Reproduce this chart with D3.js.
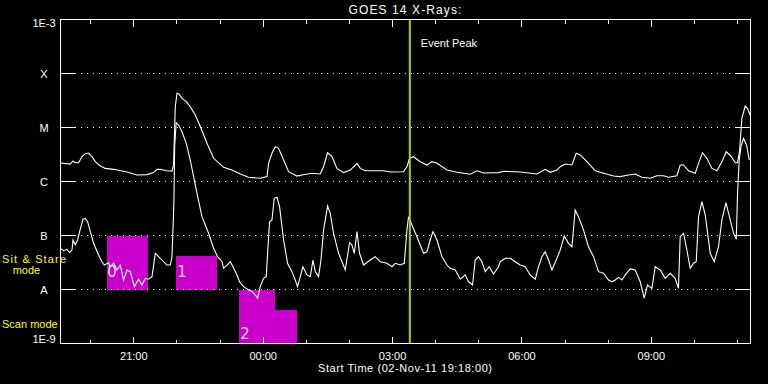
<!DOCTYPE html>
<html><head><meta charset="utf-8">
<script src="https://cdn.jsdelivr.net/npm/d3@7"></script>
<style>html,body{margin:0;background:#000;} svg{display:block}</style>
</head><body><svg id="c" width="768" height="384"></svg>
<script>
// ---------- data ----------
const titleText = "GOES 14 X-Rays:";
const xAxisTitle = "Start Time (02-Nov-11 19:18:00)";
const startUTC = Date.UTC(2011, 10, 2, 19, 18);   // 02-Nov-11 19:18
const spanMinutes = 960;                            // 16 hours
const yTickValues = [1e-9, 1e-8, 1e-7, 1e-6, 1e-5, 1e-4, 1e-3];
const yTickLabels = ["1E-9", "A", "B", "C", "M", "X", "1E-3"];
const eventPeakMinute = 486;                        // 03:24
const eventLabel = "Event Peak";
const modeLabels = ["Sit & Stare", "mode", "Scan mode"];

// mode boxes: [startMinute, endMinute, lowFlux, highFlux]
const modeBoxes = [
  [64, 122, 1e-8, 1e-7],
  [161, 218, 1e-8, 4.2e-8],
  [249, 299, 1e-9, 1e-8],
  [299, 329, 1e-9, 4.2e-9]
];
// box numbers: [label, minute, flux]
const boxNumbers = [["0", 65, 1.68e-8], ["1", 162.5, 1.68e-8], ["2", 250, 1.2e-9]];

// GOES 1-8 A (long) : [minute since start, flux W/m2]
const longChannel = [[0,2.2e-6],[13.6,2.1e-6],[17.4,2.4e-6],[20.6,2.23e-6],[25.2,2.23e-6],[29.9,2.88e-6],[34.5,3.27e-6],[39.1,3.37e-6],[43.8,2.88e-6],[48.4,2.33e-6],[55.4,1.94e-6],[62.3,1.75e-6],[73.9,1.68e-6],[92.5,1.5e-6],[106.4,1.32e-6],[120.3,1.34e-6],[129.5,1.46e-6],[134.2,1.68e-6],[138.8,1.68e-6],[148.2,1.58e-6],[155.1,1.56e-6],[157.3,2.02e-6],[159.7,2.43e-5],[162.1,4.29e-5],[164.8,4.17e-5],[169,3.47e-5],[175,3.01e-5],[180.5,2.43e-5],[187.5,1.7e-5],[194.5,1.04e-5],[203.8,5.1e-6],[213,2.69e-6],[226.9,1.83e-6],[238.6,1.63e-6],[250.1,1.38e-6],[261.7,1.2e-6],[277.9,1.15e-6],[287.3,1.23e-6],[289.5,2.17e-6],[294.2,3.33e-6],[298.8,4.41e-6],[303.4,4.12e-6],[310.4,2.5e-6],[317.3,1.52e-6],[329,1.26e-6],[336,1.32e-6],[349.9,1.42e-6],[361.4,1.38e-6],[366,1.88e-6],[371.6,3.41e-6],[377.7,2.88e-6],[384.6,1.75e-6],[393.8,1.46e-6],[403.1,1.63e-6],[412.5,2.17e-6],[417.1,1.75e-6],[424,1.58e-6],[449.5,1.58e-6],[458.8,1.5e-6],[477.3,1.52e-6],[482,1.88e-6],[485.6,2.69e-6],[491.2,2.88e-6],[500.5,2.33e-6],[509.8,2.02e-6],[516.8,2.33e-6],[523.8,2.17e-6],[537.7,1.63e-6],[551.6,1.48e-6],[570.1,1.36e-6],[579.4,1.58e-6],[588.6,1.44e-6],[609.4,1.46e-6],[616.4,1.55e-6],[639.6,1.5e-6],[662.9,1.38e-6],[674.4,1.68e-6],[681.4,1.48e-6],[690.7,1.63e-6],[695.3,1.88e-6],[702.2,2.11e-6],[711.6,2.02e-6],[717.5,3.33e-6],[723.1,3.1e-6],[732.4,2.33e-6],[744,1.58e-6],[755.5,1.42e-6],[769.4,1.26e-6],[778.7,1.23e-6],[790.3,1.32e-6],[799.6,1.38e-6],[808.9,1.2e-6],[820.5,1.15e-6],[829.8,1.28e-6],[839,1.28e-6],[845.9,1.2e-6],[857.6,1.28e-6],[862.2,2.02e-6],[866.8,2.02e-6],[873.8,1.58e-6],[883.1,1.42e-6],[887.7,2.17e-6],[893.2,3.41e-6],[899.4,2.69e-6],[906.3,1.75e-6],[913.3,1.58e-6],[920.2,2.33e-6],[926.2,3.56e-6],[932.7,2.97e-6],[938.7,2.23e-6],[941.9,2.23e-6],[944.7,3.56e-6],[948,1.48e-5],[952.6,2.5e-5],[955.8,2.27e-5],[959.5,1.7e-5]];

// GOES 0.5-4 A (short)
const shortChannel = [[0,5.79e-8],[4.3,5.23e-8],[9,5.55e-8],[12.7,4.8e-8],[16,5.39e-8],[17.4,8.26e-8],[20.6,6.67e-8],[23.8,8.26e-8],[26.6,1.18e-7],[31.3,2.0e-7],[34.5,2.08e-7],[37.7,1.8e-7],[41.5,1.18e-7],[46,7.17e-8],[53,4.35e-8],[57.7,3.27e-8],[60.9,2.84e-8],[66.9,3.13e-8],[69.3,2.64e-8],[73.9,3.06e-8],[78.6,2.3e-8],[83.2,2.84e-8],[87.8,1.5e-8],[92.5,2.3e-8],[97.1,2.14e-8],[102.7,1.13e-8],[108.6,1.55e-8],[113.4,1.21e-8],[118,1.61e-8],[122.6,1.55e-8],[127.3,1.73e-8],[131.9,4.68e-8],[138.8,3.78e-8],[148.2,2.84e-8],[152.7,2.84e-8],[155.1,4.05e-8],[157.3,2.58e-7],[157.8,4.54e-7],[158.8,4.41e-6],[161,1.23e-5],[164.3,1.11e-5],[169,8.36e-6],[175,5.1e-6],[180.5,2.5e-6],[185.2,1.23e-6],[189.9,6.04e-7],[196.8,2.23e-7],[206,1.1e-7],[213,5.79e-8],[218.5,4.05e-8],[224.7,3.27e-8],[226.9,2.47e-8],[231.6,2.84e-8],[236.2,3.27e-8],[240,2.64e-8],[245.5,1.86e-8],[249.1,1.39e-8],[254.7,1.13e-8],[261.7,9.8e-9],[266.4,9.1e-9],[271,7.9e-9],[274.2,6.9e-9],[277.9,1.13e-8],[282.5,1.61e-8],[286.3,1.73e-8],[288.1,4.68e-8],[290.9,1.8e-7],[294.2,1.94e-7],[297.4,4.89e-7],[301.2,5.1e-7],[304.8,3.41e-7],[310.4,8.26e-8],[315.9,3.06e-8],[322,2.14e-8],[326.6,1.5e-8],[329.8,1.13e-8],[333.6,1.73e-8],[337.3,2.64e-8],[342.9,1.86e-8],[347.5,1.73e-8],[351.3,3.52e-8],[354.5,2.14e-8],[359,1.73e-8],[362.4,3.52e-8],[366,1.26e-7],[371.6,3.52e-7],[375.3,2.58e-7],[379.9,1.1e-7],[386.9,4.68e-8],[396.2,2.3e-8],[402.2,7.36e-8],[405.5,6.67e-8],[408.7,4.68e-8],[412.5,1.18e-7],[416.1,4.68e-8],[421.7,2.84e-8],[431,3.52e-8],[437.9,4.05e-8],[444.9,3.27e-8],[454.2,3.06e-8],[461.2,2.64e-8],[465.7,3.06e-8],[472.7,2.84e-8],[478.3,3.06e-8],[482,1.26e-7],[484.2,2.23e-7],[488.9,1.56e-7],[495.9,9.5e-8],[505.1,4.68e-8],[509.8,5.0e-8],[514.4,8.26e-8],[518.2,1.18e-7],[523.8,8.26e-8],[530.7,4.05e-8],[537.7,2.84e-8],[542.3,2.47e-8],[549.2,2.3e-8],[556.2,1.55e-8],[563.1,1.86e-8],[567.7,1.39e-8],[573.3,1.21e-8],[577,3.52e-8],[581.6,4.05e-8],[586.3,3.27e-8],[590.9,2.14e-8],[596.5,2.64e-8],[602.5,1.94e-8],[609.4,2.64e-8],[611.8,3.27e-8],[618.8,3.78e-8],[625.7,3.78e-8],[632.7,3.27e-8],[639.6,2.84e-8],[646.6,2.64e-8],[653.5,1.86e-8],[660.5,1.55e-8],[665.1,2.64e-8],[669.8,4.05e-8],[674.4,5.0e-8],[679,3.52e-8],[683.7,2.3e-8],[690.7,3.78e-8],[695.3,5.39e-8],[700.9,9.8e-8],[706.8,7.17e-8],[711.6,6.2e-8],[716.1,2.97e-7],[720.7,2.23e-7],[727.7,1.26e-7],[734.6,6.2e-8],[741.6,4.05e-8],[748.5,2.14e-8],[755.5,2.0e-8],[762.5,1.5e-8],[767.2,1.39e-8],[771.7,1.5e-8],[776.4,1.68e-8],[781.1,1.5e-8],[785.7,1.86e-8],[792.7,2.4e-8],[799.6,2.3e-8],[806.6,1.39e-8],[812.1,6.9e-9],[816.7,1.21e-8],[822.9,1.05e-8],[827.4,2.64e-8],[834.4,2.3e-8],[841.3,1.61e-8],[848.3,2.0e-8],[855.2,1.61e-8],[859.8,1.05e-8],[862.2,9.5e-8],[866.8,1.1e-7],[871.5,5.39e-8],[876.1,2.47e-8],[880.7,3.06e-8],[884.5,3.27e-8],[887.7,2.23e-7],[892.4,4.23e-7],[897,2.4e-7],[904,4.68e-8],[909.5,3.27e-8],[915.5,6.2e-8],[920.2,1.94e-7],[925.8,4.05e-7],[931.8,1.94e-7],[936.4,1.1e-7],[940.2,8.5e-8],[942,6.04e-7],[944.3,2.5e-6],[946.7,4.41e-6],[950.3,6.31e-6],[954.5,4.74e-6],[958.2,2.5e-6]];

// ---------- drawing ----------
const svg = d3.select("#c");
const FONT = "'Liberation Sans', Arial, sans-serif";
const L = 60.5, R = 750.5, T = 19.5, B = 343.5;
const toDate = m => new Date(startUTC + m * 60000);

const x = d3.scaleUtc().domain([toDate(0), toDate(spanMinutes)]).range([L, R]);
const y = d3.scaleLog().domain([1e-9, 1e-3]).range([B, T]);

svg.append("rect").attr("width", 768).attr("height", 384).attr("fill", "#000");

// mode boxes
svg.append("g").attr("shape-rendering", "crispEdges")
  .selectAll("rect").data(modeBoxes).join("rect")
  .attr("x", d => Math.round(x(toDate(d[0]))))
  .attr("width", d => Math.round(x(toDate(d[1]))) - Math.round(x(toDate(d[0]))))
  .attr("y", d => Math.round(y(d[3])))
  .attr("height", d => Math.round(y(d[2])) - Math.round(y(d[3])))
  .attr("fill", "#cc00cc");

svg.append("g").selectAll("text").data(boxNumbers).join("text")
  .attr("x", d => x(toDate(d[1])))
  .attr("y", d => y(d[2]))
  .attr("font-family", "'DejaVu Sans Condensed', 'Liberation Sans Narrow', sans-serif")
  .attr("font-size", 16.5)
  .attr("fill", "#f4d8f4")
  .text(d => d[0]);

// horizontal grid + y ticks
const inner = yTickValues.slice(1, -1);
const grid = svg.append("g").attr("stroke", "#fff").attr("shape-rendering", "crispEdges");
grid.selectAll(".dot").data(inner).join("line")
  .attr("x1", 75).attr("x2", 735)
  .attr("y1", d => y(d)).attr("y2", d => y(d))
  .attr("stroke-dasharray", "1,5");
grid.selectAll(".tl").data(inner).join("line")
  .attr("x1", L).attr("x2", 75).attr("y1", d => y(d)).attr("y2", d => y(d));
grid.selectAll(".tr").data(inner).join("line")
  .attr("x1", 735).attr("x2", R).attr("y1", d => y(d)).attr("y2", d => y(d));

// y labels
svg.append("g").selectAll("text").data(yTickValues).join("text")
  .attr("x", 44)
  .attr("y", (d, i) => y(d) + (i === 0 ? -0.3 : i === yTickValues.length - 1 ? 7.3 : 4))
  .attr("text-anchor", "middle")
  .attr("font-family", FONT).attr("font-size", 11).attr("fill", "#fff")
  .text((d, i) => yTickLabels[i]);

// x ticks (hourly, major every 3h)
const hours = x.ticks(d3.utcHour.every(1));
const ticks = svg.append("g").attr("stroke", "#fff").attr("shape-rendering", "crispEdges");
hours.forEach(h => {
  const major = h.getUTCHours() % 3 === 0;
  const len = major ? 7 : 4;
  const xx = Math.floor(x(h)) + 0.5;
  ticks.append("line").attr("x1", xx).attr("x2", xx).attr("y1", B).attr("y2", B - len);
  ticks.append("line").attr("x1", xx).attr("x2", xx).attr("y1", T).attr("y2", T + len);
});
const majors = hours.filter(h => h.getUTCHours() % 3 === 0);
svg.append("g").selectAll("text").data(majors).join("text")
  .attr("x", d => x(d))
  .attr("y", 359.5)
  .attr("text-anchor", "middle")
  .attr("font-family", FONT).attr("font-size", 11).attr("fill", "#fff")
  .text(d => d3.utcFormat("%H:%M")(d));

// curves
const line = d3.line().x(d => x(toDate(d[0]))).y(d => y(d[1]));
[longChannel, shortChannel].forEach(s => {
  svg.append("path").datum(s).attr("d", line)
    .attr("fill", "none").attr("stroke", "#fff").attr("stroke-width", 1.1);
});

// event peak
const ex = x(toDate(eventPeakMinute));
svg.append("line").attr("x1", ex).attr("x2", ex).attr("y1", T).attr("y2", B)
  .attr("stroke", "#a6d41c").attr("stroke-width", 2);
svg.append("text").attr("x", ex + 11).attr("y", 46.5)
  .attr("font-family", FONT).attr("font-size", 11).attr("fill", "#fff").text(eventLabel);

// frame
svg.append("rect").attr("x", L).attr("y", T).attr("width", R - L).attr("height", B - T)
  .attr("fill", "none").attr("stroke", "#fff").attr("shape-rendering", "crispEdges");

// titles
svg.append("text").attr("x", (L + R) / 2).attr("y", 14).attr("text-anchor", "middle")
  .attr("font-family", FONT).attr("font-size", 12).attr("letter-spacing", 1.1)
  .attr("fill", "#fff").text(titleText);
svg.append("text").attr("x", 318).attr("y", 372)
  .attr("font-family", FONT).attr("font-size", 11).attr("fill", "#fff")
  .attr("textLength", 174).attr("lengthAdjust", "spacing").text(xAxisTitle);

// mode side labels
const yel = "#ffff00";
svg.append("text").attr("x", 2).attr("y", 263.3).attr("font-family", FONT).attr("font-size", 11)
  .attr("fill", yel).attr("textLength", 64).attr("lengthAdjust", "spacing").text(modeLabels[0]);
svg.append("text").attr("x", 12.7).attr("y", 274).attr("font-family", FONT).attr("font-size", 11)
  .attr("fill", yel).text(modeLabels[1]);
svg.append("text").attr("x", 2).attr("y", 327.6).attr("font-family", FONT).attr("font-size", 11)
  .attr("fill", yel).text(modeLabels[2]);
</script></body></html>
